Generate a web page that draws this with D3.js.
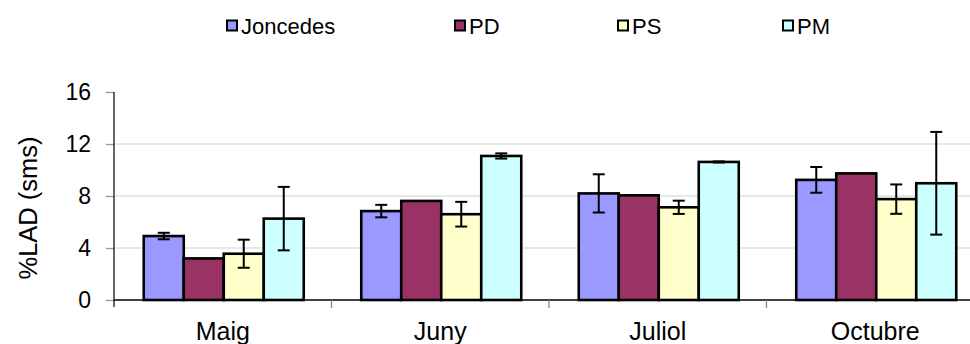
<!DOCTYPE html>
<html>
<head>
<meta charset="utf-8">
<script src="https://cdn.jsdelivr.net/npm/d3@7"></script>
<style>
  html, body { margin: 0; padding: 0; background: #fff; }
  svg { display: block; font-family: "Liberation Sans", Arial, sans-serif; }
</style>
</head>
<body>
<svg id="chart" width="970" height="344"></svg>
<script>
const categories = ["Maig", "Juny", "Juliol", "Octubre"];
const seriesNames = ["Joncedes", "PD", "PS", "PM"];
const joncedes = [4.92, 6.84, 8.2, 9.24];
const joncedesErr = [0.25, 0.48, 1.47, 0.99];
const pd = [3.2, 7.62, 8.05, 9.74];
const pdErr = [null, null, null, null];
const ps = [3.56, 6.6, 7.13, 7.76];
const psErr = [1.08, 0.95, 0.51, 1.13];
const pm = [6.26, 11.08, 10.62, 8.98];
const pmErr = [2.44, 0.2, 0.04, 3.95];
const yTicks = [0, 4, 8, 12, 16];
const colors = ["#9999FF", "#993366", "#FFFFCC", "#CCFFFF"];
const yTitle = "%LAD (sms)";

const seriesVals = [joncedes, pd, ps, pm];
const seriesErrs = [joncedesErr, pdErr, psErr, pmErr];
const data = [];
categories.forEach((c, i) => {
  seriesNames.forEach((s, j) => {
    data.push({cat: c, series: s, value: seriesVals[j][i], err: seriesErrs[j][i], color: colors[j]});
  });
});

const svg = d3.select("#chart");
const axisLeftX = 114, axisY = 300, topY = 92;
const catW = 217.5;

const x0 = d3.scaleBand().domain(categories).range([axisLeftX, axisLeftX + catW * categories.length]).padding(0);
const groupW = 160;
const x1 = d3.scaleBand().domain(seriesNames)
  .range([(x0.bandwidth() - groupW) / 2, (x0.bandwidth() + groupW) / 2]).padding(0);
const y = d3.scaleLinear().domain([0, 16]).range([axisY, topY]);

// gridlines
svg.append("g").selectAll("line")
  .data(yTicks.filter(t => t > 0 && t < 16))
  .join("line")
  .attr("x1", axisLeftX).attr("x2", 970)
  .attr("y1", d => y(d)).attr("y2", d => y(d))
  .attr("stroke", "#e0e0e0").attr("stroke-width", 1.5);

// y axis
const yAxis = d3.axisLeft(y).tickValues(yTicks).tickSize(8).tickPadding(15);
const gy = svg.append("g").attr("transform", `translate(${axisLeftX},0)`).call(yAxis);
gy.select(".domain").remove();
gy.selectAll(".tick line").attr("stroke", "#999").attr("stroke-width", 1.3);
gy.selectAll(".tick text").attr("font-size", 23).attr("fill", "#000")
  .attr("font-family", "'Liberation Sans', Arial, sans-serif");
svg.append("line").attr("x1", axisLeftX).attr("x2", axisLeftX)
  .attr("y1", y(16)).attr("y2", axisY + 7).attr("stroke", "#000").attr("stroke-width", 1.2);

// bars
const groups = svg.append("g").selectAll("g")
  .data(categories).join("g")
  .attr("transform", d => `translate(${x0(d)},0)`);

groups.selectAll("rect")
  .data(c => data.filter(d => d.cat === c))
  .join("rect")
  .attr("x", d => x1(d.series) + 1)
  .attr("width", x1.bandwidth())
  .attr("y", d => y(d.value))
  .attr("height", d => y(0) - y(d.value))
  .attr("fill", d => d.color)
  .attr("stroke", "#000").attr("stroke-width", 2.6);

// error bars
const capW = 12;
const eb = groups.selectAll("g.eb")
  .data(c => data.filter(d => d.cat === c && d.err != null))
  .join("g").attr("class", "eb");
eb.append("line")
  .attr("x1", d => x1(d.series) + 1 + x1.bandwidth() / 2)
  .attr("x2", d => x1(d.series) + 1 + x1.bandwidth() / 2)
  .attr("y1", d => y(d.value + d.err)).attr("y2", d => y(d.value - d.err))
  .attr("stroke", "#000").attr("stroke-width", 2);
[1, -1].forEach(s => {
  eb.append("line")
    .attr("x1", d => x1(d.series) + 1 + x1.bandwidth() / 2 - capW / 2)
    .attr("x2", d => x1(d.series) + 1 + x1.bandwidth() / 2 + capW / 2)
    .attr("y1", d => y(d.value + s * d.err)).attr("y2", d => y(d.value + s * d.err))
    .attr("stroke", "#000").attr("stroke-width", 2);
});

// x axis
svg.append("line").attr("x1", axisLeftX).attr("x2", 970)
  .attr("y1", axisY).attr("y2", axisY).attr("stroke", "#000").attr("stroke-width", 1.3);
svg.append("g").selectAll("line")
  .data(categories.slice(1))
  .join("line")
  .attr("x1", d => x0(d)).attr("x2", d => x0(d))
  .attr("y1", axisY).attr("y2", axisY + 8)
  .attr("stroke", "#888").attr("stroke-width", 1.3);
svg.append("g").selectAll("text")
  .data(categories)
  .join("text")
  .attr("x", d => x0(d) + x0.bandwidth() / 2)
  .attr("y", 340)
  .attr("text-anchor", "middle")
  .attr("font-size", 25)
  .text(d => d);

// y title
svg.append("text")
  .attr("transform", "translate(37,208) rotate(-90)")
  .attr("text-anchor", "middle")
  .attr("font-size", 25.5)
  .text(yTitle);

// legend
const legendX = [226, 454, 617, 782];
const leg = svg.append("g").selectAll("g")
  .data(seriesNames).join("g")
  .attr("transform", (d, i) => `translate(${legendX[i]},0)`);
leg.append("rect")
  .attr("x", 1).attr("y", 20.5).attr("width", 10).attr("height", 10)
  .attr("fill", (d, i) => colors[i]).attr("stroke", "#000").attr("stroke-width", 2);
leg.append("text")
  .attr("x", 15).attr("y", 34)
  .attr("font-size", 22)
  .text(d => d);
</script>
</body>
</html>
